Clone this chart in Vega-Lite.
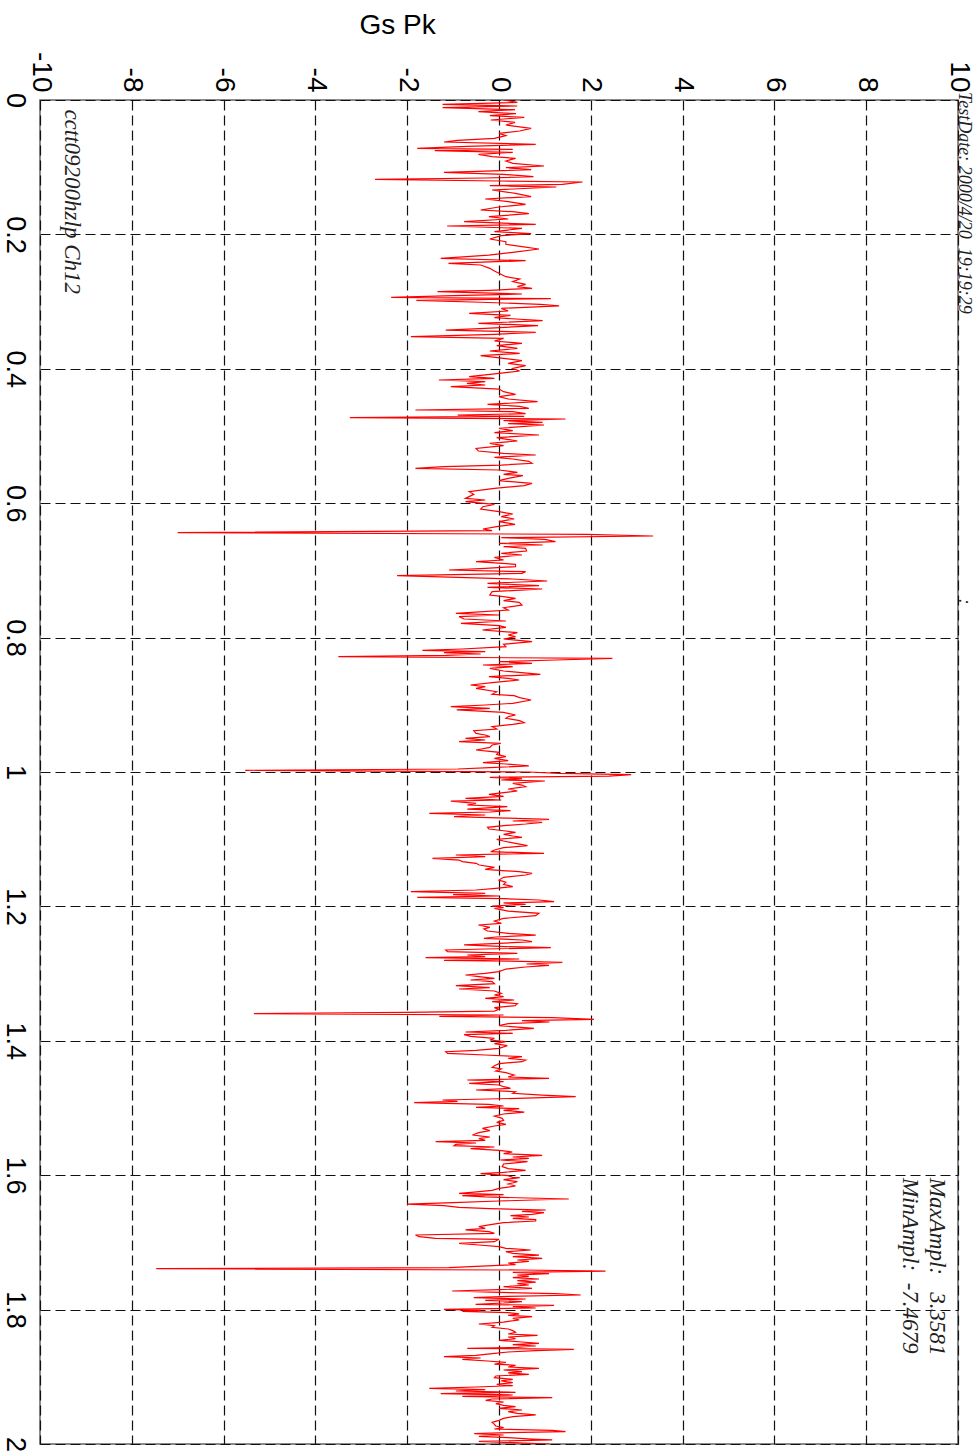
{
  "$schema": "https://vega.github.io/schema/vega-lite/v6.json",
  "width": 918,
  "height": 1344,
  "autosize": {"type": "none"},
  "padding": {"left": 40, "top": 100, "right": 21, "bottom": 10},
  "background": "#ffffff",
  "config": {
    "view": {"stroke": "#666666", "strokeWidth": 1.5}
  },
  "datasets": {
    "signal": [
      {"t":0.0,"g":0.1},{"t":0.0035,"g":0.4},{"t":0.0064,"g":-1.23},{"t":0.0089,"g":0.4},{"t":0.0114,"g":-1.23},{"t":0.0144,"g":0.35},{"t":0.0174,"g":-0.45},{"t":0.0203,"g":0.37},{"t":0.0233,"g":-0.2},{"t":0.0258,"g":0.55},
      {"t":0.0298,"g":-0.18},{"t":0.0332,"g":0.35},{"t":0.0372,"g":0.15},{"t":0.0422,"g":0.7},{"t":0.0461,"g":0.45},{"t":0.0496,"g":0.0},{"t":0.0531,"g":0.15},{"t":0.057,"g":-0.1},{"t":0.06,"g":-0.9},{"t":0.0625,"g":-1.2},
      {"t":0.066,"g":0.8},{"t":0.069,"g":-0.7},{"t":0.0719,"g":-1.78},{"t":0.0734,"g":0.3},{"t":0.0754,"g":-1.4},{"t":0.0779,"g":0.3},{"t":0.0809,"g":-0.45},{"t":0.0843,"g":-0.15},{"t":0.0868,"g":0.36},{"t":0.0908,"g":0.15},
      {"t":0.0942,"g":0.3},{"t":0.0982,"g":0.98},{"t":0.1007,"g":0.15},{"t":0.1037,"g":0.7},{"t":0.1076,"g":-1.2},{"t":0.1106,"g":0.1},{"t":0.1141,"g":0.75},{"t":0.1161,"g":-0.3},{"t":0.118,"g":-2.7},{"t":0.1205,"g":0.0},
      {"t":0.122,"g":1.82},{"t":0.1255,"g":1.38},{"t":0.1275,"g":-0.2},{"t":0.1295,"g":1.25},{"t":0.1339,"g":-0.15},{"t":0.1389,"g":0.36},{"t":0.1438,"g":0.7},{"t":0.1473,"g":-0.3},{"t":0.1513,"g":0.2},{"t":0.1553,"g":0.58},
      {"t":0.1592,"g":0.0},{"t":0.1637,"g":-0.4},{"t":0.1662,"g":0.3},{"t":0.1691,"g":0.65},{"t":0.1736,"g":-0.22},{"t":0.1771,"g":0.2},{"t":0.181,"g":-0.76},{"t":0.185,"g":0.8},{"t":0.1875,"g":-1.13},{"t":0.191,"g":0.5},
      {"t":0.1959,"g":-0.1},{"t":0.1989,"g":0.7},{"t":0.2019,"g":0.05},{"t":0.2068,"g":-0.2},{"t":0.2108,"g":0.15},{"t":0.2148,"g":0.15},{"t":0.2183,"g":0.5},{"t":0.2217,"g":0.87},{"t":0.2267,"g":0.3},{"t":0.2307,"g":-0.22},
      {"t":0.2356,"g":-1.27},{"t":0.2391,"g":0.58},{"t":0.2431,"g":-1.1},{"t":0.2455,"g":-0.4},{"t":0.2505,"g":-0.2},{"t":0.2545,"g":-0.1},{"t":0.2579,"g":0.0},{"t":0.2629,"g":0.15},{"t":0.2664,"g":0.45},{"t":0.2703,"g":0.3},
      {"t":0.2743,"g":0.58},{"t":0.2778,"g":0.4},{"t":0.2803,"g":0.72},{"t":0.2832,"g":-0.2},{"t":0.2852,"g":-1.34},{"t":0.2887,"g":0.5},{"t":0.2912,"g":-1.0},{"t":0.2937,"g":-2.35},{"t":0.2956,"g":1.13},{"t":0.2981,"g":-1.8},
      {"t":0.301,"g":-0.4},{"t":0.304,"g":0.9},{"t":0.3065,"g":1.31},{"t":0.31,"g":0.05},{"t":0.314,"g":0.2},{"t":0.3175,"g":-0.65},{"t":0.3204,"g":0.25},{"t":0.3239,"g":-0.1},{"t":0.3284,"g":0.95},{"t":0.3323,"g":-0.45},
      {"t":0.3358,"g":0.85},{"t":0.3398,"g":-0.3},{"t":0.3423,"g":-1.16},{"t":0.3457,"g":0.8},{"t":0.3487,"g":-0.1},{"t":0.3522,"g":-1.92},{"t":0.3547,"g":0.1},{"t":0.3586,"g":-0.1},{"t":0.3621,"g":0.5},{"t":0.3656,"g":-0.05},
      {"t":0.3696,"g":0.4},{"t":0.3735,"g":-0.2},{"t":0.377,"g":0.45},{"t":0.3805,"g":-0.4},{"t":0.3844,"g":0.1},{"t":0.3879,"g":0.5},{"t":0.3919,"g":0.2},{"t":0.3953,"g":0.58},{"t":0.3993,"g":0.3},
      {"t":0.4033,"g":0.45},{"t":0.4067,"g":0.0},{"t":0.4117,"g":-0.65},{"t":0.4142,"g":-0.1},{"t":0.4167,"g":-1.31},{"t":0.4191,"g":-0.3},{"t":0.4216,"g":-0.7},{"t":0.4241,"g":-0.3},{"t":0.4266,"g":-1.05},{"t":0.4301,"g":0.0},
      {"t":0.434,"g":0.1},{"t":0.438,"g":0.36},{"t":0.4415,"g":0.0},{"t":0.4449,"g":0.2},{"t":0.4489,"g":0.84},{"t":0.4529,"g":-0.25},{"t":0.4559,"g":0.45},{"t":0.4588,"g":0.65},{"t":0.4613,"g":-1.82},{"t":0.4638,"g":0.3},
      {"t":0.4668,"g":0.58},{"t":0.4688,"g":-0.9},{"t":0.4707,"g":0.55},{"t":0.4727,"g":-3.25},{"t":0.4747,"g":1.45},{"t":0.4772,"g":0.1},{"t":0.4797,"g":0.95},{"t":0.4816,"g":0.2},{"t":0.4836,"g":0.98},{"t":0.4886,"g":0.0},
      {"t":0.492,"g":0.3},{"t":0.495,"g":-0.1},{"t":0.4985,"g":0.87},{"t":0.5025,"g":-0.05},{"t":0.5074,"g":0.4},{"t":0.5109,"g":-0.2},{"t":0.5144,"g":0.1},{"t":0.5184,"g":-0.5},{"t":0.5223,"g":-0.45},{"t":0.5258,"g":0.1},
      {"t":0.5283,"g":0.8},{"t":0.5317,"g":-0.1},{"t":0.5342,"g":0.3},{"t":0.5377,"g":0.65},{"t":0.5407,"g":0.72},{"t":0.5432,"g":0.05},{"t":0.5456,"g":-1.2},{"t":0.5481,"g":-1.82},{"t":0.5506,"g":0.0},{"t":0.5541,"g":0.4},
      {"t":0.5571,"g":0.1},{"t":0.559,"g":0.52},{"t":0.563,"g":0.2},{"t":0.5665,"g":0.0},{"t":0.5704,"g":0.72},{"t":0.5739,"g":0.55},{"t":0.5779,"g":-0.1},{"t":0.5828,"g":-0.65},{"t":0.5868,"g":-0.55},{"t":0.5928,"g":-0.73},
      {"t":0.5952,"g":-0.3},{"t":0.5977,"g":-0.73},{"t":0.6017,"g":-0.1},{"t":0.6052,"g":-0.35},{"t":0.6086,"g":-0.4},{"t":0.6126,"g":0.0},{"t":0.6161,"g":0.3},{"t":0.62,"g":0.05},{"t":0.6235,"g":0.33},{"t":0.6275,"g":0.0},
      {"t":0.6314,"g":0.35},{"t":0.6349,"g":-0.05},{"t":0.6384,"g":-0.35},{"t":0.6409,"g":-0.15},{"t":0.6438,"g":-7.0},{"t":0.6463,"g":1.9},{"t":0.6488,"g":3.358},{"t":0.6513,"g":0.05},{"t":0.6538,"g":1.0},{"t":0.6572,"g":1.23},
      {"t":0.6597,"g":0.0},{"t":0.6622,"g":0.95},{"t":0.6647,"g":0.1},{"t":0.6671,"g":0.58},{"t":0.6711,"g":0.6},{"t":0.6746,"g":0.05},{"t":0.6771,"g":0.5},{"t":0.6806,"g":-0.1},{"t":0.6845,"g":0.1},{"t":0.687,"g":-0.5},
      {"t":0.691,"g":0.36},{"t":0.6944,"g":0.36},{"t":0.6969,"g":-0.3},{"t":0.6994,"g":-1.09},{"t":0.7019,"g":0.58},{"t":0.7044,"g":0.5},{"t":0.7079,"g":-2.22},{"t":0.7103,"g":-0.9},{"t":0.7128,"g":0.3},{"t":0.7158,"g":1.05},
      {"t":0.7192,"g":-0.25},{"t":0.7227,"g":0.87},{"t":0.7252,"g":-0.25},{"t":0.7277,"g":0.94},{"t":0.7316,"g":-0.15},{"t":0.7366,"g":-0.2},{"t":0.7391,"g":0.1},{"t":0.7416,"g":0.36},{"t":0.745,"g":0.1},{"t":0.7475,"g":0.44},
      {"t":0.7515,"g":0.5},{"t":0.7555,"g":0.1},{"t":0.7589,"g":0.2},{"t":0.7639,"g":-0.94},{"t":0.7664,"g":0.0},{"t":0.7688,"g":-0.87},{"t":0.7723,"g":-0.76},{"t":0.7753,"g":0.15},{"t":0.7788,"g":-0.83},{"t":0.7822,"g":0.0},
      {"t":0.7847,"g":0.15},{"t":0.7887,"g":-0.36},{"t":0.7927,"g":0.4},{"t":0.7961,"g":0.2},{"t":0.7986,"g":0.36},
      {"t":0.8021,"g":0.1},{"t":0.806,"g":0.72},{"t":0.81,"g":0.1},{"t":0.8135,"g":0.15},{"t":0.817,"g":-0.8},{"t":0.819,"g":-1.67},{"t":0.821,"g":-0.3},{"t":0.8224,"g":-1.2},{"t":0.8244,"g":-0.4},{"t":0.8264,"g":-1.15},
      {"t":0.8284,"g":-3.5},{"t":0.8309,"g":2.47},{"t":0.8333,"g":1.23},{"t":0.8358,"g":0.0},{"t":0.8383,"g":0.72},{"t":0.8408,"g":-0.35},{"t":0.8433,"g":0.3},{"t":0.8457,"g":-0.2},{"t":0.8497,"g":0.1},{"t":0.8547,"g":0.9},
      {"t":0.8581,"g":-0.22},{"t":0.8606,"g":0.2},{"t":0.8631,"g":0.44},{"t":0.8666,"g":-0.1},{"t":0.8705,"g":-0.62},{"t":0.873,"g":-0.3},{"t":0.8755,"g":-0.5},{"t":0.8805,"g":-0.05},{"t":0.8844,"g":-0.15},{"t":0.8864,"g":0.33},
      {"t":0.8894,"g":0.45},{"t":0.8929,"g":0.7},{"t":0.8978,"g":0.3},{"t":0.9003,"g":-0.3},{"t":0.9028,"g":-1.05},{"t":0.9053,"g":-0.2},{"t":0.9077,"g":-0.92},{"t":0.9112,"g":0.1},{"t":0.9152,"g":0.36},{"t":0.9177,"g":0.2},
      {"t":0.9201,"g":0.15},{"t":0.9236,"g":0.45},{"t":0.9266,"g":0.55},{"t":0.9291,"g":0.3},{"t":0.9325,"g":-0.15},{"t":0.936,"g":-0.05},{"t":0.9385,"g":-0.55},{"t":0.9425,"g":-0.5},{"t":0.9449,"g":-0.3},{"t":0.9474,"g":-0.2},
      {"t":0.9499,"g":-0.73},{"t":0.9524,"g":-0.3},{"t":0.9549,"g":-0.87},{"t":0.9573,"g":0.04},{"t":0.9598,"g":-0.15},{"t":0.9633,"g":-0.2},{"t":0.9673,"g":-0.5},{"t":0.9707,"g":0.0},{"t":0.9737,"g":-0.05},{"t":0.9772,"g":0.15},
      {"t":0.9797,"g":-0.1},{"t":0.9831,"g":0.2},{"t":0.9861,"g":-0.35},{"t":0.9881,"g":0.15},{"t":0.991,"g":0.65},{"t":0.9935,"g":-0.2},{"t":0.9955,"g":-0.9},{"t":0.9975,"g":-5.53},{"t":1.0,"g":0.65},{"t":1.002,"g":1.3},
      {"t":1.004,"g":2.88},{"t":1.006,"g":2.4},{"t":1.0079,"g":-0.2},{"t":1.0099,"g":0.5},{"t":1.0119,"g":0.05},{"t":1.0134,"g":1.0},{"t":1.0169,"g":0.3},{"t":1.0194,"g":0.5},{"t":1.0218,"g":0.58},{"t":1.0253,"g":0.2},
      {"t":1.0283,"g":0.4},{"t":1.0303,"g":0.15},{"t":1.0332,"g":-0.22},{"t":1.0362,"g":0.1},{"t":1.0392,"g":-0.73},{"t":1.0417,"g":0.05},{"t":1.0432,"g":-1.05},{"t":1.0466,"g":-0.5},{"t":1.0491,"g":-0.69},{"t":1.0516,"g":0.18},
      {"t":1.0551,"g":-0.69},{"t":1.0575,"g":0.25},{"t":1.0595,"g":-0.2},{"t":1.0615,"g":-1.52},{"t":1.064,"g":-0.3},{"t":1.0665,"g":-0.98},{"t":1.0685,"g":0.15},{"t":1.0704,"g":1.09},{"t":1.0729,"g":0.3},{"t":1.0749,"g":0.94},
      {"t":1.0774,"g":0.58},{"t":1.0799,"g":0.1},{"t":1.0823,"g":-0.25},{"t":1.0848,"g":-0.22},{"t":1.0878,"g":0.15},{"t":1.0898,"g":0.36},{"t":1.0928,"g":0.1},{"t":1.0952,"g":0.3},{"t":1.0972,"g":0.5},{"t":1.1002,"g":-0.05},
      {"t":1.1027,"g":0.1},{"t":1.1062,"g":0.36},{"t":1.1096,"g":0.62},{"t":1.1126,"g":0.1},{"t":1.1161,"g":-0.1},{"t":1.1186,"g":-0.18},{"t":1.121,"g":0.98},{"t":1.1235,"g":-0.94},{"t":1.126,"g":-0.3},{"t":1.1285,"g":-1.45},
      {"t":1.131,"g":-0.87},{"t":1.1334,"g":-0.8},{"t":1.1359,"g":-0.5},{"t":1.1384,"g":-0.43},{"t":1.1419,"g":-0.1},{"t":1.1449,"g":-0.3},{"t":1.1483,"g":0.44},{"t":1.1508,"g":0.72},{"t":1.1533,"g":0.58},{"t":1.1567,"g":0.1},
      {"t":1.1607,"g":0.0},{"t":1.1642,"g":0.15},{"t":1.1672,"g":0.1},{"t":1.1706,"g":0.3},{"t":1.1731,"g":-0.07},{"t":1.1756,"g":-0.5},{"t":1.1781,"g":-1.92},{"t":1.1806,"g":-0.3},{"t":1.1825,"g":-1.0},{"t":1.1845,"g":0.0},
      {"t":1.1865,"g":-1.78},{"t":1.1885,"g":0.1},{"t":1.1905,"g":0.87},{"t":1.1929,"g":1.2},{"t":1.1949,"g":0.1},{"t":1.1969,"g":0.58},{"t":1.1994,"g":-0.15},{"t":1.2019,"g":0.1},
      {"t":1.2029,"g":-0.1},{"t":1.2069,"g":0.2},{"t":1.2103,"g":0.87},{"t":1.2138,"g":0.8},{"t":1.2178,"g":0.1},{"t":1.2217,"g":-0.1},{"t":1.2252,"g":0.05},{"t":1.2277,"g":-0.45},{"t":1.2312,"g":-0.2},{"t":1.2336,"g":-0.33},
      {"t":1.2366,"g":-0.25},{"t":1.2401,"g":0.2},{"t":1.2426,"g":0.8},{"t":1.2455,"g":-0.07},{"t":1.2475,"g":-0.33},{"t":1.25,"g":0.5},{"t":1.2525,"g":0.72},{"t":1.255,"g":0.0},{"t":1.2574,"g":-0.76},{"t":1.2599,"g":0.15},
      {"t":1.2614,"g":1.13},{"t":1.2634,"g":-0.3},{"t":1.2649,"g":-1.16},{"t":1.2674,"g":-1.12},{"t":1.2698,"g":0.4},{"t":1.2723,"g":-0.69},{"t":1.2748,"g":-0.3},{"t":1.2763,"g":-1.6},{"t":1.2783,"g":0.44},{"t":1.2803,"g":-1.2},
      {"t":1.2817,"g":0.5},{"t":1.2832,"g":1.38},{"t":1.2857,"g":0.6},{"t":1.2877,"g":1.09},{"t":1.2902,"g":0.58},{"t":1.2932,"g":0.15},{"t":1.2971,"g":0.0},{"t":1.2996,"g":-0.3},{"t":1.3021,"g":-0.73},{"t":1.3046,"g":-0.44},
      {"t":1.3071,"g":-0.1},{"t":1.3095,"g":-0.62},{"t":1.312,"g":-0.15},{"t":1.315,"g":-0.1},{"t":1.318,"g":-0.94},{"t":1.3209,"g":-0.2},{"t":1.3229,"g":-0.87},{"t":1.3259,"g":-0.1},{"t":1.3294,"g":0.05},{"t":1.3318,"g":-0.1},
      {"t":1.3343,"g":0.1},{"t":1.3368,"g":-0.3},{"t":1.3393,"g":0.33},{"t":1.3418,"g":-0.15},{"t":1.3447,"g":0.4},{"t":1.3477,"g":0.35},{"t":1.3507,"g":-0.1},{"t":1.3532,"g":0.0},{"t":1.3557,"g":-0.1},{"t":1.3576,"g":-2.0},
      {"t":1.3596,"g":-5.34},{"t":1.3616,"g":0.1},{"t":1.3636,"g":-1.3},{"t":1.3656,"g":1.16},{"t":1.3681,"g":2.07},{"t":1.37,"g":0.5},{"t":1.372,"g":1.1},{"t":1.3745,"g":0.2},{"t":1.3775,"g":0.0},{"t":1.3814,"g":0.76},
      {"t":1.3844,"g":0.15},{"t":1.3869,"g":-0.73},{"t":1.3889,"g":0.3},{"t":1.3909,"g":-0.76},{"t":1.3934,"g":-0.62},{"t":1.3963,"g":-0.1},{"t":1.3988,"g":-0.2},{"t":1.4013,"g":0.15},{"t":1.4043,"g":-0.1},{"t":1.4073,"g":0.18},
      {"t":1.4112,"g":0.0},{"t":1.4142,"g":-0.5},{"t":1.4162,"g":-1.16},{"t":1.4187,"g":-1.12},{"t":1.4211,"g":-0.3},{"t":1.4236,"g":0.5},{"t":1.4261,"g":0.2},{"t":1.4286,"g":0.58},{"t":1.4311,"g":0.5},{"t":1.434,"g":0.0},
      {"t":1.437,"g":-0.1},{"t":1.4395,"g":-0.15},{"t":1.442,"g":0.05},{"t":1.445,"g":-0.07},{"t":1.4474,"g":0.15},{"t":1.4509,"g":0.33},{"t":1.4539,"g":0.2},{"t":1.4559,"g":1.09},{"t":1.4583,"g":-0.69},{"t":1.4608,"g":0.1},
      {"t":1.4633,"g":-0.65},{"t":1.4658,"g":0.0},{"t":1.4683,"g":0.1},{"t":1.4707,"g":0.25},{"t":1.4732,"g":-0.5},{"t":1.4757,"g":0.36},{"t":1.4782,"g":0.3},{"t":1.4807,"g":0.94},{"t":1.4831,"g":1.67},{"t":1.4856,"g":0.4},
      {"t":1.4881,"g":-1.23},{"t":1.4901,"g":-0.9},{"t":1.4921,"g":-1.85},{"t":1.4945,"g":-0.22},{"t":1.497,"g":0.1},{"t":1.499,"g":-0.5},{"t":1.501,"g":0.44},{"t":1.5035,"g":0.1},{"t":1.506,"g":0.55},{"t":1.5089,"g":0.1},
      {"t":1.5119,"g":-0.1},{"t":1.5154,"g":0.07},{"t":1.5184,"g":0.1},{"t":1.5213,"g":-0.05},{"t":1.5243,"g":0.15},{"t":1.5268,"g":-0.1},{"t":1.5303,"g":-0.36},{"t":1.5337,"g":-0.2},{"t":1.5367,"g":-0.44},{"t":1.5402,"g":-0.58},
      {"t":1.5432,"g":-0.2},{"t":1.5456,"g":-0.44},{"t":1.5481,"g":-0.3},{"t":1.5501,"g":-1.38},{"t":1.5521,"g":-0.5},{"t":1.5541,"g":-0.94},{"t":1.5561,"g":-0.98},{"t":1.558,"g":-0.1},{"t":1.5605,"g":-0.62},{"t":1.563,"g":0.0},
      {"t":1.5655,"g":0.29},{"t":1.568,"g":0.1},{"t":1.5704,"g":0.94},{"t":1.5729,"g":0.3},{"t":1.5749,"g":0.65},{"t":1.5774,"g":0.03},{"t":1.5799,"g":0.62},{"t":1.5833,"g":0.1},{"t":1.5873,"g":0.07},{"t":1.5903,"g":0.2},
      {"t":1.5928,"g":0.58},{"t":1.5957,"g":0.1},{"t":1.5977,"g":-0.4},{"t":1.6007,"g":0.2},{"t":1.6032,"g":0.3},
      {"t":1.6037,"g":0.45},{"t":1.6067,"g":0.1},{"t":1.6097,"g":0.4},{"t":1.6131,"g":0.2},{"t":1.6161,"g":0.36},{"t":1.6196,"g":0.0},{"t":1.6225,"g":-0.15},{"t":1.6255,"g":-0.6},{"t":1.627,"g":-0.87},{"t":1.629,"g":0.1},
      {"t":1.6305,"g":-0.8},{"t":1.6324,"g":-0.3},{"t":1.6354,"g":1.52},{"t":1.6384,"g":0.0},{"t":1.6409,"g":-1.0},{"t":1.6429,"g":-2.0},{"t":1.6453,"g":-1.2},{"t":1.6478,"g":-0.87},{"t":1.6498,"g":-0.2},{"t":1.6518,"g":1.02},
      {"t":1.6538,"g":0.5},{"t":1.6557,"g":0.98},{"t":1.6582,"g":0.72},{"t":1.6602,"g":0.25},{"t":1.6622,"g":0.65},{"t":1.6642,"g":0.3},{"t":1.6662,"g":0.8},{"t":1.6682,"g":0.8},{"t":1.6706,"g":0.1},{"t":1.6731,"g":-0.15},
      {"t":1.6766,"g":-0.44},{"t":1.6791,"g":-0.3},{"t":1.6815,"g":-0.73},{"t":1.684,"g":-0.22},{"t":1.6865,"g":-0.1},{"t":1.689,"g":-1.82},{"t":1.6915,"g":-1.74},{"t":1.6939,"g":-1.38},{"t":1.6954,"g":0.0},{"t":1.6989,"g":-0.1},
      {"t":1.7014,"g":-0.87},{"t":1.7039,"g":-0.44},{"t":1.7063,"g":0.0},{"t":1.7088,"g":0.15},{"t":1.7113,"g":0.69},{"t":1.7138,"g":0.15},{"t":1.7163,"g":0.3},{"t":1.7188,"g":0.87},{"t":1.7212,"g":0.3},{"t":1.7237,"g":0.94},
      {"t":1.7262,"g":0.4},{"t":1.7282,"g":0.65},{"t":1.7307,"g":0.2},{"t":1.7331,"g":0.36},{"t":1.7356,"g":-0.5},{"t":1.7376,"g":-1.09},{"t":1.7391,"g":-7.468},{"t":1.7411,"g":0.5},{"t":1.7426,"g":2.32},{"t":1.7446,"g":0.3},
      {"t":1.7465,"g":1.09},{"t":1.7485,"g":0.4},{"t":1.7505,"g":0.65},{"t":1.7525,"g":0.3},{"t":1.7545,"g":0.87},{"t":1.757,"g":0.4},{"t":1.759,"g":0.8},{"t":1.7614,"g":0.4},{"t":1.7634,"g":0.65},{"t":1.7659,"g":0.1},
      {"t":1.7684,"g":0.72},{"t":1.7704,"g":0.0},{"t":1.7723,"g":-1.02},{"t":1.7743,"g":0.0},{"t":1.7763,"g":1.23},{"t":1.7783,"g":1.78},{"t":1.7803,"g":0.2},{"t":1.7822,"g":-0.55},{"t":1.7842,"g":0.58},{"t":1.7862,"g":-0.3},
      {"t":1.7882,"g":0.5},{"t":1.7902,"g":0.1},{"t":1.7922,"g":-0.51},{"t":1.7937,"g":1.2},{"t":1.7956,"g":0.3},{"t":1.7976,"g":0.8},{"t":1.7996,"g":-1.2},{"t":1.8011,"g":-0.4},{"t":1.8026,"g":-0.8},{"t":1.8046,"g":0.2},
      {"t":1.8065,"g":0.44},{"t":1.8085,"g":0.2},{"t":1.8105,"g":0.72},{"t":1.813,"g":0.3},{"t":1.8155,"g":0.44},{"t":1.8185,"g":0.1},{"t":1.8214,"g":-0.44},{"t":1.8239,"g":-0.1},{"t":1.8264,"g":-0.15},{"t":1.8289,"g":0.2},
      {"t":1.8313,"g":0.3},{"t":1.8338,"g":0.36},{"t":1.8363,"g":0.2},{"t":1.8383,"g":0.84},{"t":1.8408,"g":0.2},{"t":1.8433,"g":0.36},{"t":1.8457,"g":0.0},{"t":1.8482,"g":0.5},{"t":1.8502,"g":0.87},{"t":1.8522,"g":0.3},
      {"t":1.8542,"g":0.8},{"t":1.8562,"g":0.4},{"t":1.8576,"g":-0.69},{"t":1.8591,"g":1.63},{"t":1.8611,"g":0.8},{"t":1.8631,"g":0.2},{"t":1.8656,"g":-0.15},{"t":1.8681,"g":-0.5},{"t":1.87,"g":-1.2},{"t":1.872,"g":-0.4},
      {"t":1.874,"g":-0.8},{"t":1.8765,"g":-0.25},{"t":1.8785,"g":0.15},{"t":1.881,"g":-0.1},{"t":1.8829,"g":0.36},{"t":1.8854,"g":0.2},{"t":1.8874,"g":0.87},{"t":1.8899,"g":0.1},{"t":1.8924,"g":0.5},{"t":1.8943,"g":0.2},
      {"t":1.8963,"g":0.65},{"t":1.8988,"g":-0.07},{"t":1.9013,"g":-0.1},{"t":1.9038,"g":0.3},{"t":1.9062,"g":0.05},{"t":1.9087,"g":0.3},{"t":1.9112,"g":-0.05},{"t":1.9132,"g":0.3},{"t":1.9152,"g":-0.5},{"t":1.9172,"g":-1.52},
      {"t":1.9191,"g":-0.3},{"t":1.9211,"g":-0.94},{"t":1.9231,"g":0.36},{"t":1.9251,"g":-1.27},{"t":1.9271,"g":0.3},{"t":1.9291,"g":-0.8},{"t":1.9311,"g":1.16},{"t":1.933,"g":-0.15},{"t":1.935,"g":-0.29},{"t":1.9375,"g":0.1},
      {"t":1.94,"g":-0.07},{"t":1.9425,"g":0.1},{"t":1.9444,"g":0.36},{"t":1.9469,"g":0.0},{"t":1.9494,"g":0.5},{"t":1.9519,"g":0.2},{"t":1.9544,"g":0.4},{"t":1.9568,"g":0.8},{"t":1.9593,"g":0.3},{"t":1.9618,"g":0.1},
      {"t":1.9648,"g":0.0},{"t":1.9678,"g":-0.15},{"t":1.9707,"g":-0.1},{"t":1.9732,"g":-0.07},{"t":1.9757,"g":0.1},{"t":1.9777,"g":-0.1},{"t":1.9797,"g":1.16},{"t":1.9816,"g":1.45},{"t":1.9831,"g":0.2},{"t":1.9846,"g":-0.54},
      {"t":1.9866,"g":0.1},{"t":1.9886,"g":-0.44},{"t":1.9906,"g":0.2},{"t":1.9926,"g":0.72},{"t":1.994,"g":1.16},{"t":1.996,"g":-0.44},{"t":1.998,"g":0.3},{"t":2.0,"g":1.09}
    ],
    "notes": [
      {"g": -9.46, "t": 0.014, "label": "cctt09200hzlp Ch12"},
      {"g": 9.39, "t": 1.604, "label": "MaxAmpl:\u00a0\u00a0\u00a03.3581"},
      {"g": 8.8, "t": 1.604, "label": "MinAmpl:\u00a0\u00a0-7.4679"}
    ],
    "edgeNotes": [
      {"g": 10.03, "t": -0.012, "label": "TestDate: 2000/4/20\u00a0\u00a019:19:29"},
      {"g": 10.03, "t": 0.742, "label": ":"}
    ]
  },
  "layer": [
    {
      "data": {"name": "signal"},
      "mark": {"type": "line", "color": "#ff0000", "strokeWidth": 1.2, "clip": true},
      "encoding": {
        "x": {
          "field": "g", "type": "quantitative",
          "scale": {"domain": [-10, 10], "nice": false, "zero": false},
          "axis": {
            "orient": "top",
            "values": [-10, -8, -6, -4, -2, 0, 2, 4, 6, 8, 10],
            "labelExpr": "'' + datum.value",
            "labelAngle": 90, "labelAlign": "right", "labelBaseline": "middle",
            "labelPadding": 8, "labelFont": "Liberation Sans", "labelFontSize": 28,
            "labelColor": "#000000", "labelFlush": false, "labelOverlap": false, "labelBound": false,
            "ticks": false, "domain": false,
            "grid": true, "gridDash": [10, 5], "gridColor": "#111111", "gridOpacity": 1, "gridWidth": 1.2,
            "title": "Gs Pk", "titleFont": "Liberation Sans", "titleFontSize": 28, "titleFontWeight": "normal",
            "titleColor": "#000000", "titleAngle": 0, "titleX": 357, "titleY": -67,
            "titleAlign": "center", "titleBaseline": "alphabetic"
          }
        },
        "y": {
          "field": "t", "type": "quantitative",
          "scale": {"domain": [0, 2], "reverse": true, "nice": false, "zero": false},
          "axis": {
            "orient": "left",
            "values": [0, 0.2, 0.4, 0.6, 0.8, 1, 1.2, 1.4, 1.6, 1.8, 2],
            "labelExpr": "'' + datum.value",
            "labelAngle": 90, "labelAlign": "center", "labelBaseline": "top",
            "labelPadding": 13, "labelFont": "Liberation Sans", "labelFontSize": 27,
            "labelColor": "#000000", "labelFlush": false, "labelOverlap": false, "labelBound": false,
            "ticks": false, "domain": false,
            "grid": true, "gridDash": [10, 5], "gridColor": "#111111", "gridOpacity": 1, "gridWidth": 1.2,
            "title": null
          }
        },
        "order": {"field": "t", "type": "quantitative"}
      }
    },
    {
      "mark": {"type": "rule", "color": "#555555", "strokeWidth": 1.5},
      "encoding": {"x": {"datum": 0, "type": "quantitative"}}
    },
    {
      "data": {"name": "notes"},
      "mark": {"type": "text", "angle": 90, "align": "left", "baseline": "alphabetic",
               "font": "Liberation Serif", "fontStyle": "italic", "fontSize": 23, "color": "#222222"},
      "encoding": {
        "x": {"field": "g", "type": "quantitative"},
        "y": {"field": "t", "type": "quantitative"},
        "text": {"field": "label"}
      }
    },
    {
      "data": {"name": "edgeNotes"},
      "mark": {"type": "text", "angle": 90, "align": "left", "baseline": "alphabetic",
               "font": "Liberation Serif", "fontStyle": "italic", "fontSize": 18, "color": "#222222"},
      "encoding": {
        "x": {"field": "g", "type": "quantitative"},
        "y": {"field": "t", "type": "quantitative"},
        "text": {"field": "label"}
      }
    }
  ]
}
